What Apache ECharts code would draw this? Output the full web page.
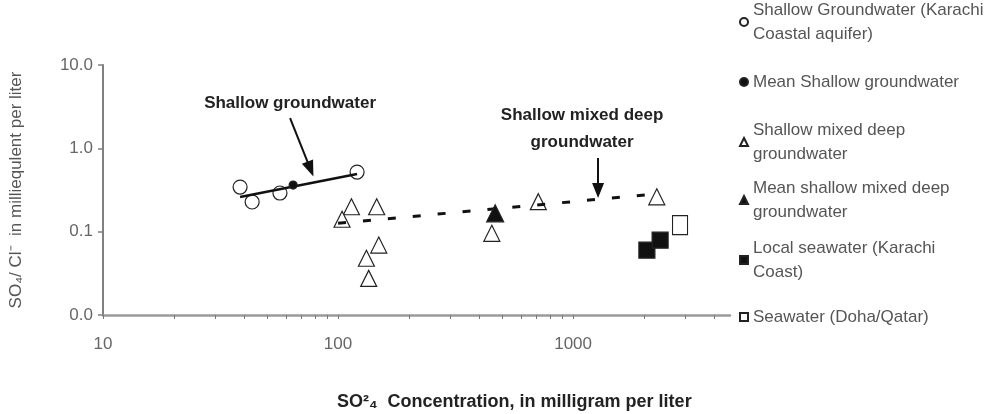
<!DOCTYPE html>
<html>
<head>
<meta charset="utf-8">
<script src="https://cdn.jsdelivr.net/npm/echarts@6/dist/echarts.min.js"></script>
<style>
html, body { margin: 0; padding: 0; background: #fff; }
#chart { width: 998px; height: 414px; }
</style>
</head>
<body>
<div id="chart"></div>
<script>
// SO4 (mg/L) against SO4/Cl ratio (meq/L), both log scale
var shallowGw = [[38.3, 0.343], [43.1, 0.227], [56.6, 0.291], [120.5, 0.519]];
var meanShallowGw = [[64.4, 0.362]];
var mixedDeepGw = [[114, 0.199], [146, 0.199], [104, 0.141], [149, 0.069], [132, 0.048],
  [135, 0.0275], [451, 0.0955], [711, 0.229], [2270, 0.262]];
var meanMixedDeepGw = [[466, 0.166]];
var localSeawater = [[2060, 0.060], [2345, 0.079]];
var dohaSeawater = [[2850, 0.120]];
var shallowTrend = [[38.3, 0.26], [120.5, 0.491]];
var mixedTrend = [[100, 0.126], [2150, 0.28]];

var xTickValues = [10, 20, 30, 40, 50, 60, 70, 80, 90, 100, 200, 300, 400, 500, 600, 700, 800, 900,
  1000, 2000, 3000, 4000];
var xLabelValues = [10, 100, 1000];

var names = [
  "Shallow Groundwater (Karachi Coastal aquifer)",
  "Mean Shallow groundwater",
  "Shallow mixed deep groundwater",
  "Mean shallow mixed deep groundwater",
  "Local seawater (Karachi Coast)",
  "Seawater (Doha/Qatar)"
];
var legendText = [
  "Shallow Groundwater (Karachi\nCoastal aquifer)",
  "Mean Shallow groundwater",
  "Shallow mixed deep\ngroundwater",
  "Mean shallow mixed deep\ngroundwater",
  "Local seawater (Karachi\nCoast)",
  "Seawater (Doha/Qatar)"
];

var FONT = "'Liberation Sans', Arial, sans-serif";
var chart = echarts.init(document.getElementById("chart"));

// one legend per entry so the icon sits on the first text line
var legendTops = [-14, 70, 106, 164, 224, 305];
var legends = names.map(function (n, i) {
  var twoLines = legendText[i].indexOf("\n") >= 0;
  return {
    data: [n],
    left: 739,
    top: legendTops[i],
    padding: 0,
    itemWidth: 8,
    itemHeight: 8,
    selectedMode: false,
    formatter: function () { return legendText[i]; },
    textStyle: {
      fontFamily: FONT, fontSize: 17, color: "#555", lineHeight: 24,
      padding: twoLines ? [24, 0, 0, 0] : 0
    }
  };
});

function scatter(name, data, symbol, size, fill, z) {
  return {
    name: name,
    type: "scatter",
    data: data,
    symbol: symbol,
    symbolSize: size,
    z: z || 3,
    itemStyle: { color: fill, borderColor: "#222", borderWidth: 1.2, opacity: 1 }
  };
}

chart.setOption({
  animation: false,
  grid: { left: 103, top: 65, right: 268, bottom: 99, containLabel: false, outerBoundsMode: "none" },
  title: {
    text: "SO²₄  Concentration, in milligram per liter",
    left: 337,
    top: 393,
    padding: 0,
    textStyle: { fontFamily: FONT, fontSize: 18, fontWeight: "bold", color: "#222" }
  },
  legend: legends,
  xAxis: {
    type: "log",
    logBase: 10,
    min: 10,
    max: 4650,
    axisLine: { lineStyle: { color: "#9a9a9a", width: 2.5 } },
    axisTick: { show: true, length: 4, customValues: xTickValues, lineStyle: { color: "#777", width: 1 } },
    axisLabel: {
      customValues: xLabelValues,
      margin: 21,
      fontFamily: FONT, fontSize: 17, color: "#666",
      formatter: function (v) { return String(Math.round(v)); }
    },
    splitLine: { show: false },
    minorTick: { show: false }
  },
  yAxis: {
    type: "log",
    logBase: 10,
    min: 0.01,
    max: 10,
    name: "SO₄/ Cl⁻  in milliequlent per liter",
    nameLocation: "middle",
    nameGap: 78,
    nameRotate: 90,
    nameTextStyle: { fontFamily: FONT, fontSize: 17, color: "#555" },
    axisLine: { show: true, lineStyle: { color: "#808080", width: 2 } },
    axisTick: { show: true, length: 5, lineStyle: { color: "#808080", width: 1.5 } },
    axisLabel: {
      margin: 10,
      fontFamily: FONT, fontSize: 17, color: "#666",
      formatter: function (v) { return Number(v).toFixed(1); }
    },
    splitLine: { show: false }
  },
  series: [
    scatter(names[0], shallowGw, "circle", 14, "#fff"),
    scatter(names[2], mixedDeepGw, "triangle", 16, "#fff"),
    scatter(names[4], localSeawater, "rect", 16, "#111"),
    scatter(names[5], dohaSeawater, "rect", [15, 19], "#fff"),
    {
      name: "shallow trend",
      type: "line",
      data: shallowTrend,
      showSymbol: false,
      z: 4,
      lineStyle: { color: "#111", width: 2.5 },
      markLine: {
        silent: true,
        symbol: ["none", "triangle"],
        symbolSize: [12, 16],
        label: { show: false },
        lineStyle: { color: "#111", width: 2, type: "solid" },
        data: [[{ coord: [62.5, 2.31] }, { coord: [76.3, 0.564] }]]
      },
      markPoint: {
        silent: true,
        symbol: "circle",
        symbolSize: 0,
        label: {
          show: true, position: "inside", formatter: "Shallow groundwater",
          fontFamily: FONT, fontSize: 17, fontWeight: "bold", color: "#222"
        },
        data: [{ coord: [62.5, 3.5] }]
      }
    },
    {
      name: "mixed trend",
      type: "line",
      data: mixedTrend,
      showSymbol: false,
      z: 4,
      lineStyle: { color: "#111", width: 3, type: [8, 17] },
      markLine: {
        silent: true,
        symbol: ["none", "triangle"],
        symbolSize: [12, 15],
        label: { show: false },
        lineStyle: { color: "#111", width: 2, type: "solid" },
        data: [[{ coord: [1277, 0.766] }, { coord: [1277, 0.311] }]]
      },
      markPoint: {
        silent: true,
        symbol: "circle",
        symbolSize: 0,
        label: {
          show: true, position: "inside", formatter: "Shallow mixed deep\ngroundwater",
          lineHeight: 27,
          fontFamily: FONT, fontSize: 17, fontWeight: "bold", color: "#222"
        },
        data: [{ coord: [1092, 1.73] }]
      }
    },
    scatter(names[1], meanShallowGw, "circle", 8, "#111", 5),
    scatter(names[3], meanMixedDeepGw, "triangle", 17, "#111", 5)
  ]
});
</script>
</body>
</html>
